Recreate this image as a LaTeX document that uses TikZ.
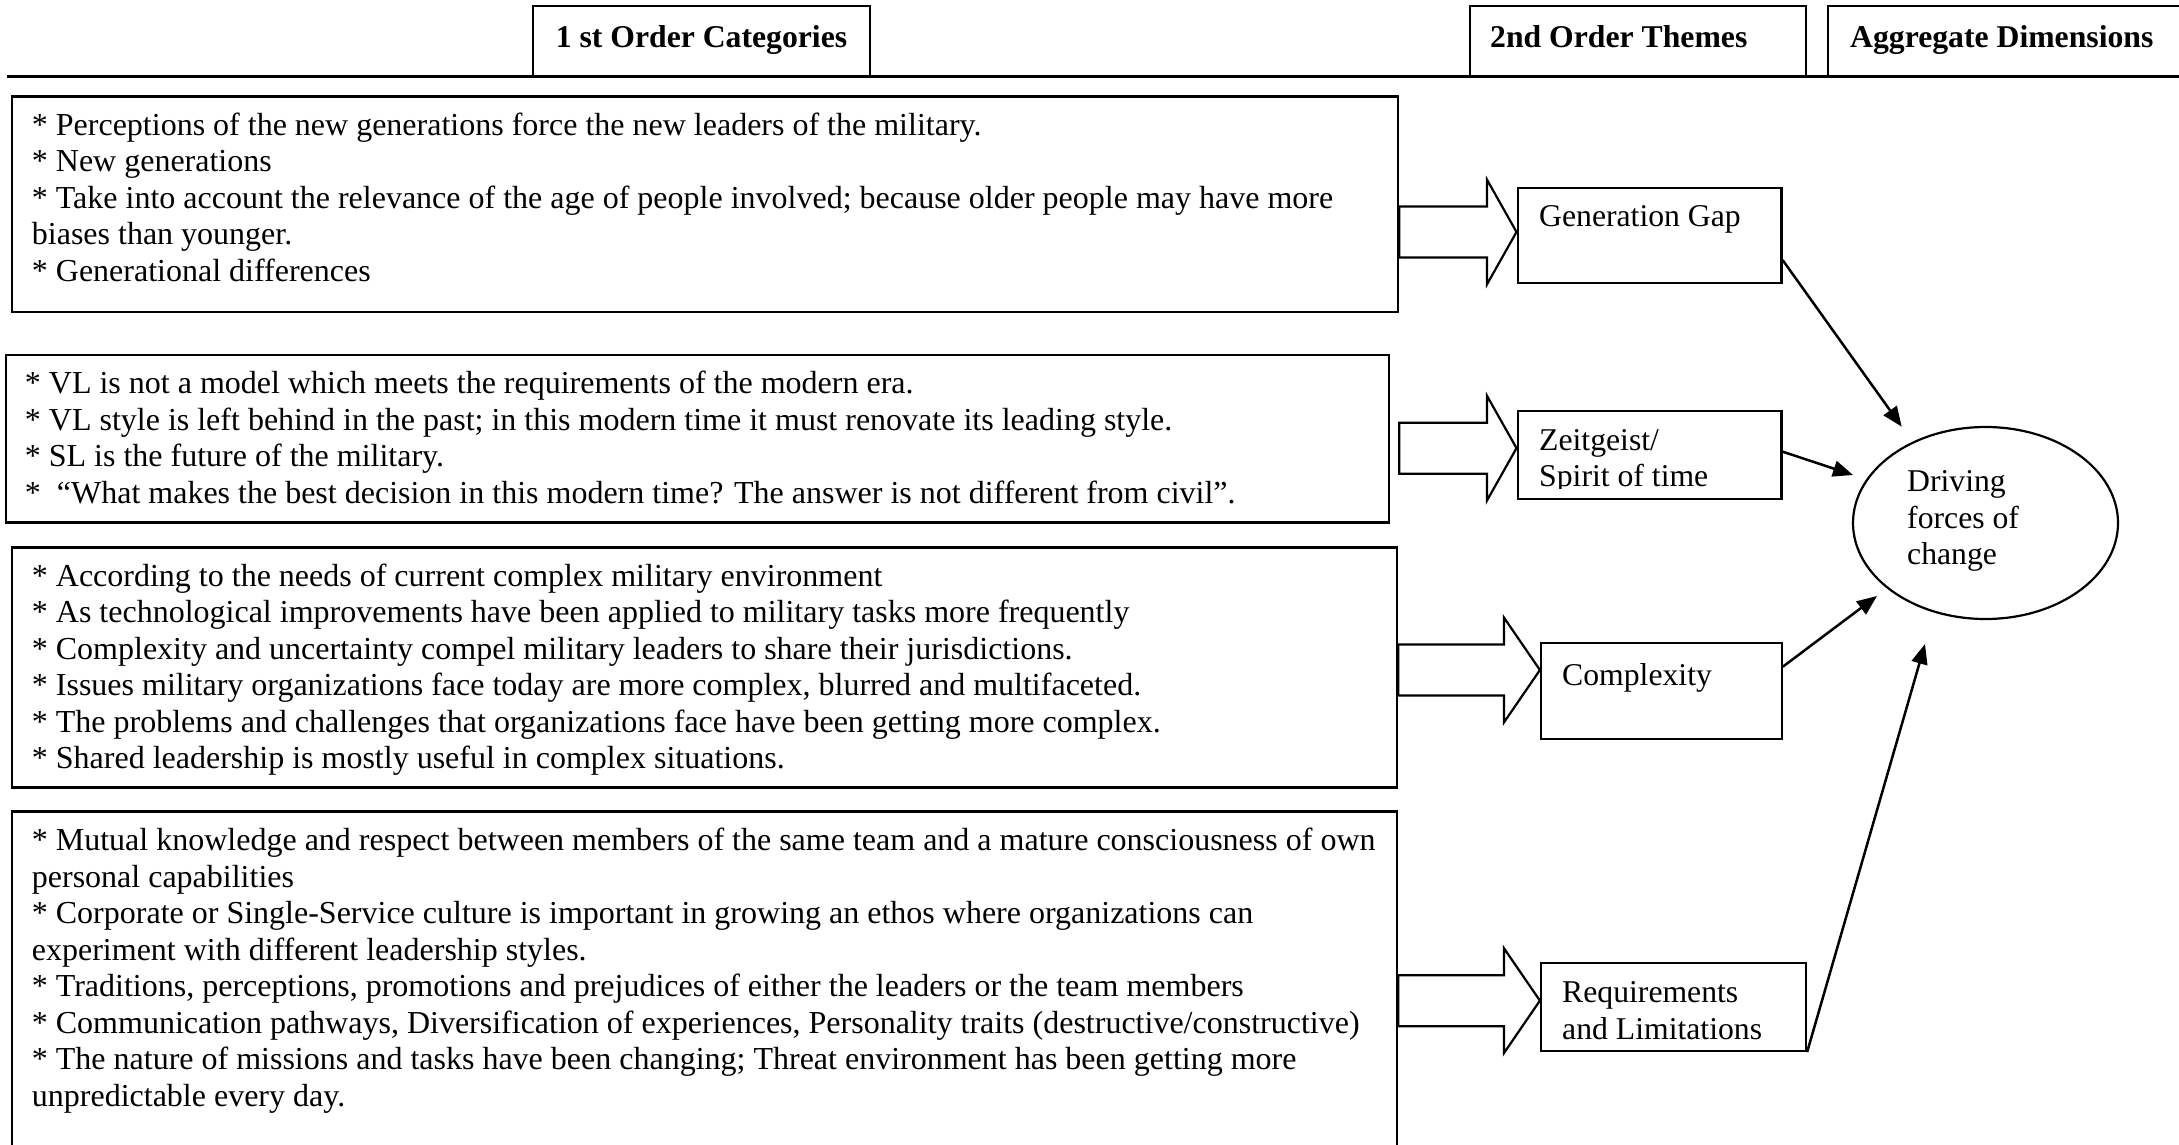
\documentclass[tikz,border=0pt]{standalone}
\usepackage{fontspec}
\setmainfont{Liberation Serif}
\usetikzlibrary{arrows.meta,calc,fit,shapes.geometric}

\tikzset{
  catbox/.style={draw, rectangle, line width=2.2pt, inner sep=0pt},
  listbox/.style={catbox, line width=2.6pt},
  hdrbox/.style={catbox, line width=2.4pt},
  listtext/.style={font=\fontsize{32}{36.5}\selectfont, align=left, inner sep=0pt, anchor=north west},
  hdrtext/.style={font=\fontsize{31.7}{36.5}\selectfont\bfseries, inner sep=0pt},
  themetext/.style={font=\fontsize{31.7}{36.5}\selectfont, align=left, inner sep=0pt},
  fatarrowstyle/.style={draw, fill=white, line width=2.2pt, line join=miter},
  link/.style={line width=2.5pt, -{Triangle[length=20pt,width=16pt]}},
}

% hollow block arrow: #1 tail point (x used), #2 tip point, #3 head length
\newcommand\fatarrow[3]{%
  \draw[fatarrowstyle] let \p1=(#1), \p2=(#2) in
    (\x1,\y2+25.5pt) -- (\x2-#3,\y2+25.5pt) -- (\x2-#3,\y2+52.5pt) -- (\p2)
    -- (\x2-#3,\y2-52.5pt) -- (\x2-#3,\y2-25.5pt) -- (\x1,\y2-25.5pt) -- cycle;}

\begin{document}
\begin{tikzpicture}[x=1pt,y=-1pt]
\useasboundingbox (0,0) rectangle (2179,1145);
\fill[white] (0,0) rectangle (2179,1145);
\clip (0,0) rectangle (2179,1145);

% column headings
\draw[line width=3pt] (7,77) -- (2179,77);
\node[hdrbox, fit={(533,6) (870,77)}] (hdrcat) {};
\node[hdrbox, fit={(1470,6) (1806,77)}] (hdrtheme) {};
\node[hdrbox, fit={(1828,6) (2200,77)}] (hdragg) {};
\node[hdrtext, anchor=base] (hdrcattxt) at (701.5,48) {1 st Order Categories};
\node[hdrtext, anchor=base west] (hdrthemetxt) at (1490,48) {2nd Order Themes};
\node[hdrtext, anchor=base west] (hdraggtxt) at (1850,48) {Aggregate Dimensions};

% first order categories
\node[listbox, fit={(12,96.5) (1398,312)}] (boxA) {};
\node[listtext] (txtA) at ([shift={(21,14.5)}]boxA.north west) {\strut
* Perceptions of the new generations force the new leaders of the military.\\
* New generations\\
* Take into account the relevance of the age of people involved; because older people may have more\\
biases than younger.\\
* Generational differences};

\node[listbox, fit={(6,355) (1389,522.5)}] (boxB) {};
\node[listtext] (txtB) at ([shift={(20,14.5)}]boxB.north west) {\strut
* VL is not a model which meets the requirements of the modern era.\\
* VL style is left behind in the past; in this modern time it must renovate its leading style.\\
* SL is the future of the military.\\
* \ “What makes the best decision in this modern time? The answer is not different from civil”.};

\node[listbox, fit={(12,547.5) (1397,787.7)}] (boxC) {};
\node[listtext] (txtC) at ([shift={(21,14.5)}]boxC.north west) {\strut
* According to the needs of current complex military environment\\
* As technological improvements have been applied to military tasks more frequently\\
* Complexity and uncertainty compel military leaders to share their jurisdictions.\\
* Issues military organizations face today are more complex, blurred and multifaceted.\\
* The problems and challenges that organizations face have been getting more complex.\\
* Shared leadership is mostly useful in complex situations.};

\node[listbox, fit={(12,811.7) (1397,1170)}] (boxD) {};
\node[listtext] (txtD) at ([shift={(21,14.5)}]boxD.north west) {\strut
* Mutual knowledge and respect between members of the same team and a mature consciousness of own\\
personal capabilities\\
* Corporate or Single-Service culture is important in growing an ethos where organizations can\\
experiment with different leadership styles.\\
* Traditions, perceptions, promotions and prejudices of either the leaders or the team members\\
* Communication pathways, Diversification of experiences, Personality traits (destructive/constructive)\\
* The nature of missions and tasks have been changing; Threat environment has been getting more\\
unpredictable every day.};

% second order themes
\node[catbox, fit={(1517.6,187.7) (1781.5,283.3)}] (gg) {};
\node[themetext, anchor=base west] (ggtxt) at (1539,226.7) {Generation Gap};

\node[catbox, fit={(1517.6,411) (1781.5,499.3)}] (zg) {};
\begin{scope}
  \clip (1517.6,411) rectangle (1781.5,488.5);
  \node[themetext, anchor=north west] (zgtxt) at (1539,424.45) {\strut Zeitgeist/\\Spirit of time};
\end{scope}

\node[catbox, fit={(1541,643.3) (1781.7,739.3)}] (cx) {};
\node[themetext, anchor=base west] (cxtxt) at (1562,685) {Complexity};

\node[catbox, fit={(1541,963.3) (1806,1051)}] (rl) {};
\node[themetext, anchor=north west] (rltxt) at (1562,977.15) {\strut Requirements\\and Limitations};

% block arrows from categories to themes
\coordinate (gghead) at ($(gg.west)+(0,-3.5)$);
\coordinate (zghead) at ($(zg.west)+(0,-7)$);
\coordinate (cxhead) at ($(cx.west)+(0,-21.3)$);
\coordinate (rlhead) at ($(rl.west)+(0,-6.5)$);
\fatarrow{boxA.east |- gghead}{gghead}{29.6pt}
\fatarrow{$(boxB.east)+(9,0)$}{zghead}{29.6pt}
\fatarrow{boxC.east |- cxhead}{cxhead}{36pt}
\fatarrow{boxD.east |- rlhead}{rlhead}{36pt}

% aggregate dimension
\node[draw, ellipse, line width=2.2pt, minimum width=265pt, minimum height=192pt, inner sep=0pt] (dfc) at (1985.5,523) {};
\node[themetext, anchor=north west] (dfctxt) at (1907,466.15) {\strut Driving\\forces of\\change};

% links from themes to the aggregate dimension
\coordinate (ggend) at (1901.7,426.7);
\coordinate (zgend) at (1853,475);
\coordinate (cxend) at (1877,596);
\coordinate (rlend) at (1925,644);
\draw[link] ($(gg.east)+(0,24.5)$) -- (ggend);
\draw[link] ($(zg.east)+(0,-3.5)$) -- (zgend);
\draw[link] ($(cx.east)+(0,-24.6)$) -- (cxend);
\draw[link] (rl.south east) -- (rlend);
\end{tikzpicture}
\end{document}
